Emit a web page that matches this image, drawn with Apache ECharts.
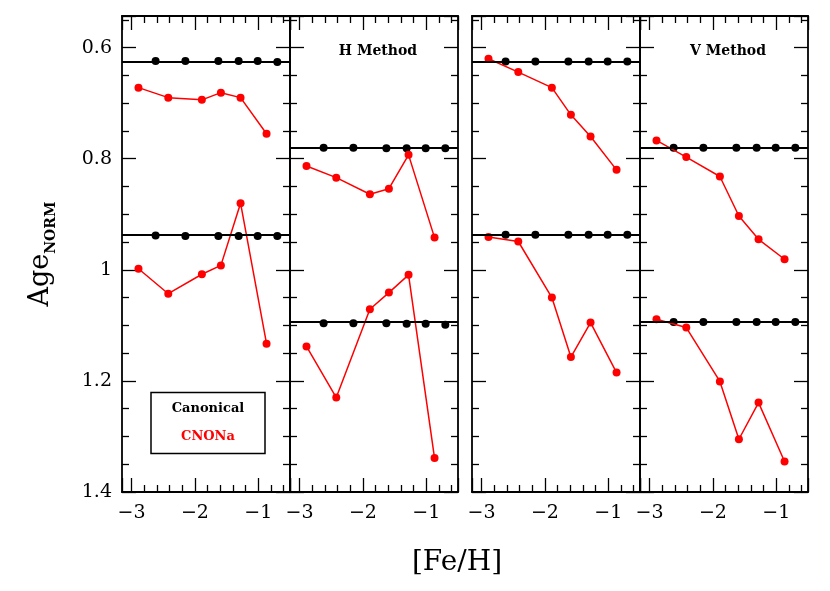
<!DOCTYPE html>
<html>
<head>
<meta charset="utf-8">
<script src="https://cdn.jsdelivr.net/npm/echarts@6/dist/echarts.min.js"></script>
<style>
  html, body { margin: 0; padding: 0; background: #fff; }
  #chart { width: 830px; height: 591px; }
</style>
</head>
<body>
<div id="chart"></div>
<script>
// [Fe/H] positions of the points
const fehCanon = [-2.62, -2.15, -1.63, -1.31, -1.01, -0.70];
const fehCnona = [-2.89, -2.42, -1.89, -1.59, -1.28, -0.87];

// canonical reference levels (upper / lower set) for each panel
const refUpper = [0.625, 0.780, 0.625, 0.780];
const refLower = [0.937, 1.094, 0.937, 1.094];

// panel 1
const canonUp1 = [0.624, 0.624, 0.624, 0.624, 0.624, 0.626];
const cnonaUp1 = [0.672, 0.690, 0.694, 0.681, 0.690, 0.755];
const canonLow1 = [0.938, 0.939, 0.939, 0.939, 0.939, 0.939];
const cnonaLow1 = [0.998, 1.043, 1.008, 0.992, 0.880, 1.133];
// panel 2 (H method)
const canonUp2 = [0.780, 0.780, 0.781, 0.781, 0.781, 0.781];
const cnonaUp2 = [0.813, 0.834, 0.864, 0.854, 0.793, 0.942];
const canonLow2 = [1.096, 1.096, 1.096, 1.097, 1.097, 1.099];
const cnonaLow2 = [1.138, 1.230, 1.071, 1.041, 1.009, 1.339];
// panel 3
const canonUp3 = [0.625, 0.625, 0.625, 0.625, 0.625, 0.625];
const cnonaUp3 = [0.620, 0.644, 0.672, 0.721, 0.760, 0.820];
const canonLow3 = [0.937, 0.937, 0.937, 0.937, 0.937, 0.937];
const cnonaLow3 = [0.941, 0.949, 1.050, 1.157, 1.095, 1.185];
// panel 4 (V method)
const canonUp4 = [0.780, 0.780, 0.780, 0.780, 0.780, 0.780];
const cnonaUp4 = [0.767, 0.797, 0.832, 0.903, 0.945, 0.981];
const canonLow4 = [1.094, 1.094, 1.094, 1.094, 1.094, 1.094];
const cnonaLow4 = [1.089, 1.104, 1.201, 1.305, 1.239, 1.345];

const panelLabels = ["", "H Method", "", "V Method"];

const panels = [
  [canonUp1, cnonaUp1, canonLow1, cnonaLow1],
  [canonUp2, cnonaUp2, canonLow2, cnonaLow2],
  [canonUp3, cnonaUp3, canonLow3, cnonaLow3],
  [canonUp4, cnonaUp4, canonLow4, cnonaLow4],
];

const FONT = "DejaVu Serif";
const gridLefts = [122, 290, 472, 640];

const zip = (xs, ys) => xs.map((x, i) => [x, ys[i]]);

const axisBase = {
  axisLine: { onZero: false, lineStyle: { color: "#000", width: 1.8 } },
  axisTick: { inside: true, length: 14, lineStyle: { color: "#000", width: 1.3 } },
  minorTick: { show: true, length: 7, lineStyle: { color: "#000", width: 1.3 } },
  splitLine: { show: false },
};

const xAxes = [];
const yAxes = [];
gridLefts.forEach((_, i) => {
  ["bottom", "top"].forEach((pos) => {
    xAxes.push({
      ...axisBase,
      type: "value",
      gridIndex: i,
      position: pos,
      min: -3.15,
      max: -0.5,
      splitNumber: 2,
      minorTick: { ...axisBase.minorTick, splitNumber: 5 },
      axisLabel: {
        show: pos === "bottom",
        showMinLabel: false,
        showMaxLabel: false,
        margin: 12,
        color: "#000",
        fontFamily: FONT,
        fontSize: 19,
        formatter: (v) => String(v).replace("-", "\u2212"),
      },
    });
  });
  ["left", "right"].forEach((pos) => {
    yAxes.push({
      ...axisBase,
      type: "value",
      gridIndex: i,
      position: pos,
      inverse: true,
      min: 0.543,
      max: 1.4,
      splitNumber: 4,
      minorTick: { ...axisBase.minorTick, splitNumber: 4 },
      axisLabel: {
        show: i === 0 && pos === "left",
        showMinLabel: false,
        margin: 10,
        color: "#000",
        fontFamily: FONT,
        fontSize: 19,
      },
    });
  });
});

// Age_NORM axis title on the first panel
Object.assign(yAxes[0], {
  name: "{a|Age}{b|NORM}",
  nameLocation: "middle",
  nameRotate: 90,
  nameGap: 64,
  nameTextStyle: {
    rich: {
      a: { fontFamily: FONT, fontSize: 27, color: "#000", verticalAlign: "bottom", padding: [0, 0, 4, 0] },
      b: { fontFamily: FONT, fontSize: 14, fontWeight: "bold", color: "#000", verticalAlign: "bottom" },
    },
  },
});

const series = [];
panels.forEach((p, i) => {
  const [canonUp, cnonaUp, canonLow, cnonaLow] = p;
  const axes = { xAxisIndex: i * 2, yAxisIndex: i * 2 };
  [[canonUp, refUpper[i]], [canonLow, refLower[i]]].forEach(([vals, ref]) => {
    series.push({
      type: "scatter",
      ...axes,
      data: zip(fehCanon, vals),
      symbolSize: 8,
      itemStyle: { color: "#000", opacity: 1 },
      z: 3,
      markLine: {
        silent: true,
        precision: 4,
        symbol: ["none", "none"],
        label: { show: false },
        lineStyle: { color: "#000", width: 2, type: "solid", opacity: 1 },
        data: [{ yAxis: ref }],
      },
    });
  });
  [cnonaUp, cnonaLow].forEach((vals) => {
    series.push({
      type: "line",
      ...axes,
      data: zip(fehCnona, vals),
      symbol: "circle",
      symbolSize: 8,
      itemStyle: { color: "#ff0000", opacity: 1 },
      lineStyle: { color: "#ff0000", width: 1.5 },
      z: 4,
    });
  });
});

const graphic = [
  {
    type: "text",
    x: 457,
    y: 563,
    style: { text: "[Fe/H]", fontFamily: FONT, fontSize: 28, fill: "#000", align: "center", verticalAlign: "middle" },
  },
  {
    type: "rect",
    shape: { x: 151, y: 392.5, width: 114, height: 61 },
    style: { fill: "#fff", stroke: "#000", lineWidth: 1.5 },
    z: 10,
  },
  {
    type: "text",
    x: 208,
    y: 409,
    style: { text: "Canonical", fontFamily: FONT, fontSize: 13, fontWeight: "bold", fill: "#000", align: "center", verticalAlign: "middle" },
    z: 11,
  },
  {
    type: "text",
    x: 208,
    y: 437,
    style: { text: "CNONa", fontFamily: FONT, fontSize: 13, fontWeight: "bold", fill: "#ff0000", align: "center", verticalAlign: "middle" },
    z: 11,
  },
];
panelLabels.forEach((label, i) => {
  if (!label) return;
  graphic.push({
    type: "text",
    x: gridLefts[i] + 88,
    y: 51,
    style: { text: label, fontFamily: FONT, fontSize: 14, fontWeight: "bold", fill: "#000", align: "center", verticalAlign: "middle" },
  });
});

const chart = echarts.init(document.getElementById("chart"));
chart.setOption({
  animation: false,
  backgroundColor: "#fff",
  grid: gridLefts.map((left) => ({ left: left, top: 16, width: 168, height: 476 })),
  xAxis: xAxes,
  yAxis: yAxes,
  series: series,
  graphic: graphic,
});
</script>
</body>
</html>
